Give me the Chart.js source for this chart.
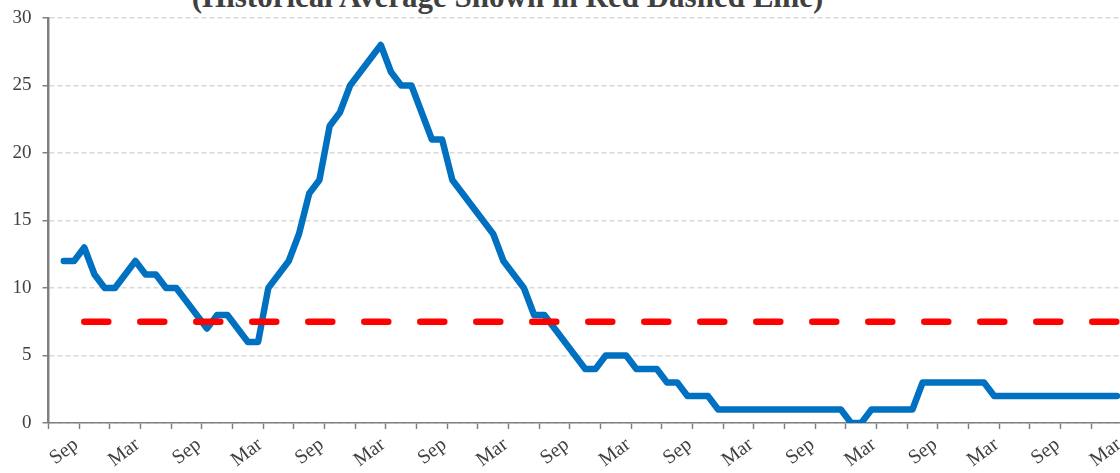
<!DOCTYPE html>
<html>
<head>
<meta charset="utf-8">
<script src="https://cdn.jsdelivr.net/npm/chart.js@4/dist/chart.umd.min.js"></script>
<style>
  html, body { margin: 0; padding: 0; background: #fff; width: 1120px; height: 473px; overflow: hidden; }
  #title { position: absolute; left: 0; top: -19px; width: 1015px; text-align: center; font: bold 31px "Liberation Serif", serif; line-height: 31px; color: #404040; white-space: nowrap; }
  #wrap { position: absolute; left: 0; top: 0; width: 1122px; height: 473px; }
</style>
</head>
<body>
<div id="title">(Historical Average Shown in Red Dashed Line)</div>
<div id="wrap"><canvas id="chart"></canvas></div>
<script>
// monthly values, one per month, starting at the 2nd slot of the axis
const monthlyValues = [
  12, 12, 13, 11, 10, 10, 11, 12, 11, 11, 10, 10, 9, 8, 7, 8, 8, 7, 6, 6,
  10, 11, 12, 14, 17, 18, 22, 23, 25, 26, 27, 28, 26, 25, 25, 23, 21, 21, 18, 17,
  16, 15, 14, 12, 11, 10, 8, 8, 7, 6, 5, 4, 4, 5, 5, 5, 4, 4, 4, 3,
  3, 2, 2, 2, 1, 1, 1, 1, 1, 1, 1, 1, 1, 1, 1, 1, 1, 0, 0, 1,
  1, 1, 1, 1, 3, 3, 3, 3, 3, 3, 3, 2, 2, 2, 2, 2, 2, 2, 2, 2,
  2, 2, 2, 2
];
const historicalAverage = 7.5;
const avgStartMonth = 2;
const tickLabels = ["Sep", "Mar", "Sep", "Mar", "Sep", "Mar", "Sep", "Mar", "Sep",
                    "Mar", "Sep", "Mar", "Sep", "Mar", "Sep", "Mar", "Sep", "Mar"];
const yTicks = [0, 5, 10, 15, 20, 25, 30];

const firstSlot = 1;          // axis slot of the first month
const axisSlots = 105;        // months on the axis
const slotCentre = i => firstSlot + i + 0.5;

const linePts = monthlyValues.map((v, i) => ({x: slotCentre(i), y: v}));
const avgPts = monthlyValues.map((v, i) => i >= avgStartMonth ? {x: slotCentre(i), y: historicalAverage} : null).filter(Boolean);

const serif = '"Liberation Serif", "Times New Roman", serif';

new Chart(document.getElementById("chart"), {
  type: "line",
  data: {
    datasets: [
      {label: "Historical average", data: avgPts, borderColor: "#ff0000", borderWidth: 6.5, borderDash: [24, 32], borderCapStyle: "round", pointRadius: 0, tension: 0},
      {label: "Value", data: linePts, borderColor: "#0070c0", borderWidth: 6.5, borderCapStyle: "round", borderJoinStyle: "round", pointRadius: 0, tension: 0}
    ]
  },
  options: {
    responsive: true, maintainAspectRatio: false, animation: false,
    layout: {padding: {top: 18, right: 0, bottom: 0, left: 0}},
    plugins: {legend: {display: false}, tooltip: {enabled: false}},
    scales: {
      x: {
        type: "linear", min: 0, max: axisSlots,
        afterFit: s => { s.height = 50; s.paddingLeft = 0; s.paddingRight = 0; },
        ticks: {
          stepSize: 3, autoSkip: false, maxRotation: 37, minRotation: 37, padding: 4, labelOffset: -3,
          color: "#404040", font: {family: serif, size: 20},
          callback: v => (v % 6 === 3) ? tickLabels[(v - 3) / 6] : ""
        },
        grid: {drawOnChartArea: false, tickLength: 6, tickColor: "#808080", tickWidth: 1.5},
        border: {color: "#808080", width: 1.5}
      },
      y: {
        min: 0, max: 30,
        afterFit: s => { s.width = 48.5; s.paddingTop = 0; s.paddingBottom = 0; },
        afterBuildTicks: s => { s.ticks = yTicks.map(v => ({value: v})); },
        ticks: {padding: 11, color: "#404040", font: {family: serif, size: 19}},
        grid: {color: "#d9d9d9", lineWidth: 1.5, tickLength: 6, tickColor: "#808080", tickWidth: 1.5, tickBorderDash: []},
        border: {color: "#808080", width: 2.5, dash: [5, 3]}
      }
    }
  }
});
</script>
</body>
</html>
